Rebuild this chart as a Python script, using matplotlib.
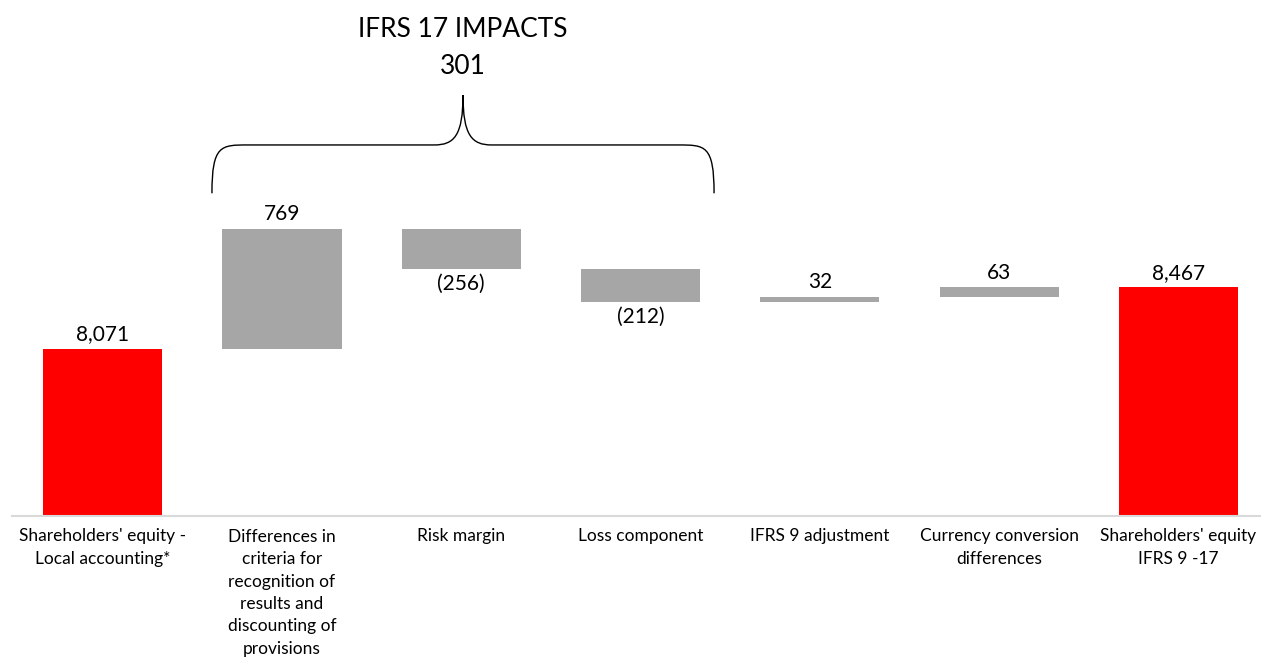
import matplotlib.pyplot as plt
from matplotlib.path import Path
from matplotlib.patches import PathPatch

plt.rcParams["font.family"] = ["Lato", "DejaVu Sans"]

categories = [
    "Shareholders' equity -\nLocal accounting*",
    "Differences in\ncriteria for\nrecognition of\nresults and\ndiscounting of\nprovisions",
    "Risk margin",
    "Loss component",
    "IFRS 9 adjustment",
    "Currency conversion\ndifferences",
    "Shareholders' equity\nIFRS 9 -17",
]
values = [8071, 769, -256, -212, 32, 63, 8467]
is_total = [True, False, False, False, False, False, True]
labels = ["8,071", "769", "(256)", "(212)", "32", "63", "8,467"]
ifrs17_idx = [1, 2, 3]

red = "#FF0000"
grey = "#A6A6A6"
base = 7000

fig = plt.figure(figsize=(12.61, 6.59), dpi=100)
ax = fig.add_axes([12 / 1261, 143 / 659, 1 - 12 / 1261, 516 / 659])

running = 0
for i, v in enumerate(values):
    if is_total[i]:
        bottom, top = base, v
        running = v
        color = red
    else:
        start = running
        running = running + v
        bottom, top = min(start, running), max(start, running)
        color = grey
    ax.bar(i, top - bottom, bottom=bottom, width=0.665, color=color, zorder=2)
    if v >= 0:
        ax.text(i, top + 30, labels[i], ha="center", va="bottom", fontsize=15, color="black")
    else:
        ax.text(i, bottom - 30, labels[i], ha="center", va="top", fontsize=15, color="black")

ax.set_xlim(-0.505, 6.46)
ax.set_ylim(base, base + 516 / 0.1559)
ax.set_xticks(range(len(categories)))
ax.set_xticklabels(categories, fontsize=12.5, color="black", linespacing=1.5, va="top")
ax.tick_params(axis="x", length=0, pad=9)
ax.set_yticks([])
for s in ["top", "left", "right"]:
    ax.spines[s].set_visible(False)
ax.spines["bottom"].set_color("#D9D9D9")
ax.spines["bottom"].set_linewidth(1.5)

# brace over the IFRS 17 bars
xl, xr = ifrs17_idx[0] - 0.39, ifrs17_idx[-1] + 0.41
xm = (xl + xr) / 2
yb, yh, yt = 9070, 9380, 9700
r = 0.2
verts = [
    (xl, yb), (xl, yh), (xl + 0.05, yh), (xl + r, yh),
    (xm - r * 0.8, yh),
    (xm - 0.05, yh), (xm, yh + 60), (xm, yt),
    (xm, yh + 60), (xm + 0.05, yh), (xm + r * 0.8, yh),
    (xr - r, yh),
    (xr - 0.05, yh), (xr, yh), (xr, yb),
]
codes = [Path.MOVETO, Path.CURVE4, Path.CURVE4, Path.CURVE4,
         Path.LINETO,
         Path.CURVE4, Path.CURVE4, Path.CURVE4,
         Path.CURVE4, Path.CURVE4, Path.CURVE4,
         Path.LINETO,
         Path.CURVE4, Path.CURVE4, Path.CURVE4]
ax.add_patch(PathPatch(Path(verts, codes), fill=False, lw=1, color="black", clip_on=False))

impact = sum(values[i] for i in ifrs17_idx)
ax.text(xm, 10000, "IFRS 17 IMPACTS\n" + str(impact), ha="center", va="center",
        fontsize=19, linespacing=1.6, color="black")

fig.savefig("out.png", dpi=100)
